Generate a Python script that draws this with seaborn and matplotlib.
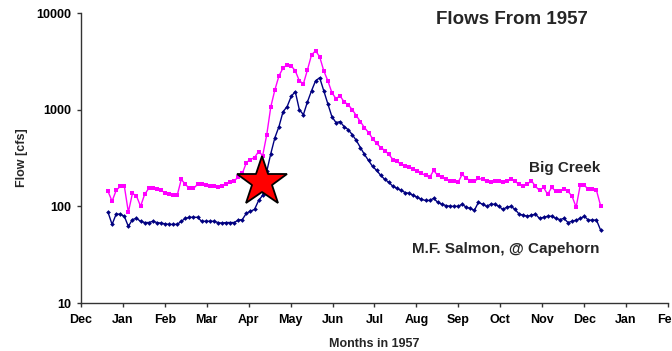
import numpy as np
import pandas as pd
import matplotlib
matplotlib.use("Agg")
import matplotlib.pyplot as plt
from matplotlib.ticker import NullLocator
import seaborn as sns

# Daily flows in 1957, one reading every third day (day-of-year 1, 4, 7, ...)
days = np.arange(1, 365, 3)

big_creek = [
    143, 113, 146, 161, 163, 87, 136, 128, 100, 133,
    153, 153, 150, 146, 139, 133, 130, 130, 190, 169,
    153, 153, 169, 169, 165, 161, 161, 157, 161, 169,
    177, 185, 199, 219, 284, 305, 320, 369, 335, 552,
    1075, 1607, 2240, 2700, 2910, 2840, 2525, 1990, 1850, 2585,
    3690, 4060, 3525, 2525, 1990, 1500, 1300, 1390, 1205, 1127,
    1000, 868, 752, 652, 580, 502, 447, 406, 378, 344,
    305, 291, 271, 259, 253, 241, 230, 219, 209, 199,
    235, 209, 199, 190, 181, 181, 177, 214, 195, 185,
    181, 195, 190, 181, 177, 181, 181, 177, 185, 190,
    181, 169, 161, 169, 185, 161, 146, 157, 133, 157,
    143, 143, 150, 143, 127, 98, 165, 165, 150, 150,
    146, 102,
]

mf_salmon = [
    87, 65, 83, 83, 79, 62, 73, 75, 70, 68,
    68, 70, 68, 67, 66, 65, 65, 65, 70, 75,
    77, 77, 77, 70, 70, 70, 70, 68, 67, 68,
    68, 68, 72, 73, 85, 89, 93, 115, 130, 230,
    352, 514, 668, 953, 1075, 1370, 1540, 1000, 888, 1205,
    1570, 1990, 2140, 1570, 1150, 847, 735, 752, 668, 622,
    552, 480, 406, 344, 298, 259, 235, 209, 190, 177,
    161, 153, 146, 139, 136, 130, 124, 118, 115, 115,
    121, 110, 105, 102, 100, 100, 100, 105, 98, 95,
    91, 110, 105, 100, 105, 105, 100, 93, 98, 100,
    93, 83, 81, 79, 81, 83, 75, 77, 79, 79,
    75, 73, 75, 68, 70, 72, 75, 79, 72, 72,
    72, 57,
]

month_labels = ["Dec", "Jan", "Feb", "Mar", "Apr", "May", "Jun", "Jul",
                "Aug", "Sep", "Oct", "Nov", "Dec", "Jan", "Feb"]
y_ticks = [10, 100, 1000, 10000]
y_labels = ["10", "100", "1000", "10000"]

# Star marking the start of the spring rise
star_day = [114.5]
star_flow = [180]

sns.set_style("ticks")
plt.rcParams["font.family"] = ["Liberation Sans", "DejaVu Sans"]
plt.rcParams["font.weight"] = "bold"

fig = plt.figure(figsize=(6.72, 3.51), dpi=100)
ax = fig.add_axes([81 / 672, 1 - 303 / 351, 587 / 672, 290 / 351])

df_bc = pd.DataFrame({"day": days, "flow": big_creek})
df_mf = pd.DataFrame({"day": days, "flow": mf_salmon})

sns.lineplot(data=df_bc, x="day", y="flow", ax=ax, color="#FF00FF",
             estimator=None, linewidth=1.0, marker="s", markersize=2.2,
             markeredgewidth=0)
sns.lineplot(data=df_mf, x="day", y="flow", ax=ax, color="#000080",
             estimator=None, linewidth=1.0, marker="D", markersize=2.4,
             markeredgewidth=0)

ax.plot(star_day, star_flow, linestyle="none", marker="*", markersize=38,
        markerfacecolor="#FF0000", markeredgecolor="black",
        markeredgewidth=1.3, zorder=10)

ax.set_yscale("log")
ax.set_ylim(10, 10000)
ax.set_yticks(y_ticks)
ax.set_yticklabels(y_labels)
ax.yaxis.set_minor_locator(NullLocator())

x0, x1 = -18.9, 413.7
ax.set_xlim(x0, x1)
ax.set_xticks(np.linspace(x0, x1, len(month_labels)))
ax.set_xticklabels(month_labels)

ax.set_xlabel("")
ax.set_ylabel("")
for side in ("top", "right"):
    ax.spines[side].set_visible(False)
for side in ("left", "bottom"):
    ax.spines[side].set_color("#333333")
    ax.spines[side].set_linewidth(1.0)

ax.tick_params(axis="both", which="major", length=3, width=1,
               color="#333333", labelsize=9, labelcolor="black")
ax.tick_params(axis="x", pad=5)
ax.tick_params(axis="y", pad=4)
for lab in ax.get_xticklabels() + ax.get_yticklabels():
    lab.set_fontweight("bold")

fig.text(512 / 672, 1 - 19.5 / 351, "Flows From 1957", ha="center",
         va="center", fontsize=13.5, fontweight="bold")
fig.text(21.5 / 672, 1 - 158 / 351, "Flow [cfs]", rotation=90,
         ha="center", va="center", fontsize=9, fontweight="bold")
fig.text(374.5 / 672, 1 - 344 / 351, "Months in 1957", ha="center",
         va="center", fontsize=9, fontweight="bold")
fig.text(600 / 672, 1 - 168 / 351, "Big Creek", ha="right",
         va="center", fontsize=11, fontweight="bold")
fig.text(599 / 672, 1 - 249.5 / 351, "M.F. Salmon, @ Capehorn", ha="right",
         va="center", fontsize=11, fontweight="bold")

fig.savefig("out.png", dpi=100, facecolor="white")
